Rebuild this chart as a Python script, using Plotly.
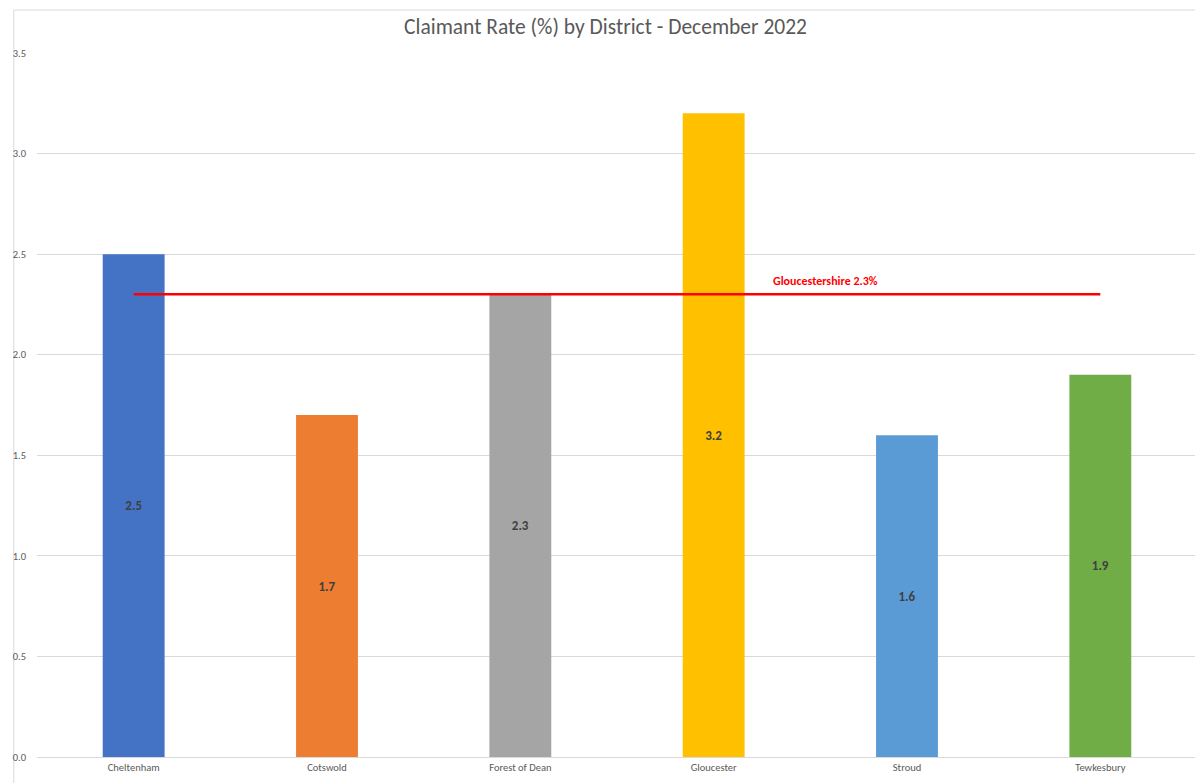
import plotly.graph_objects as go

districts = ['Cheltenham', 'Cotswold', 'Forest of Dean', 'Gloucester', 'Stroud', 'Tewkesbury']
rates = [2.5, 1.7, 2.3, 3.2, 1.6, 1.9]
bar_colors = ['#4472C4', '#ED7D31', '#A5A5A5', '#FFC000', '#5B9BD5', '#70AD47']
county_rate = 2.3
y_ticks = [0.0, 0.5, 1.0, 1.5, 2.0, 2.5, 3.0, 3.5]

font_family = 'Carlito, Liberation Sans Narrow, Open Sans, sans-serif'

fig = go.Figure()

fig.add_trace(go.Bar(
    x=districts,
    y=rates,
    marker=dict(color=bar_colors, line=dict(width=0)),
    width=0.32,
    text=[f'{v:.1f}' for v in rates],
    textposition='inside',
    insidetextanchor='middle',
    textfont=dict(family=font_family, size=13, color='#404040'),
    texttemplate='<b>%{text}</b>',
    showlegend=False,
))

# county average line, drawn from first to last district
fig.add_trace(go.Scatter(
    x=[districts[0], districts[-1]],
    y=[county_rate, county_rate],
    mode='lines',
    line=dict(color='#FF0000', width=2.5),
    showlegend=False,
    hoverinfo='skip',
))

fig.add_annotation(
    x=3.58, y=county_rate, xref='x', yref='y',
    text='<b>Gloucestershire 2.3%</b>',
    showarrow=False, yanchor='bottom', yshift=4,
    font=dict(family=font_family, size=12, color='#FF0000'),
)

fig.update_layout(
    title=dict(text='Claimant Rate (%) by District - December 2022', x=0.5, xanchor='center',
               y=0.976, yanchor='middle',
               font=dict(family=font_family, size=21.5, color='#595959')),
    width=1195, height=775,
    margin=dict(l=29, r=6, t=45, b=26),
    plot_bgcolor='white', paper_bgcolor='white',
    font=dict(family=font_family, color='#595959'),
    bargap=0.68,
    xaxis=dict(showgrid=False, showline=True, linecolor='#D9D9D9', linewidth=1,
               ticks='', tickfont=dict(size=10.5, color='#595959')),
    yaxis=dict(range=[0, 3.5], tickvals=y_ticks, tickformat='.1f', showgrid=True,
               gridcolor='#D9D9D9', gridwidth=1, zeroline=False, showline=False,
               ticks='', ticklabelstandoff=10, tickfont=dict(size=10.5, color='#595959')),
    shapes=[dict(type='rect', xref='paper', yref='paper', x0=-0.02, x1=1.01, y0=-0.05, y1=1.061,
                 line=dict(color='#D9D9D9', width=1), fillcolor='rgba(0,0,0,0)', layer='below')],
)

fig.write_html('out.html')
